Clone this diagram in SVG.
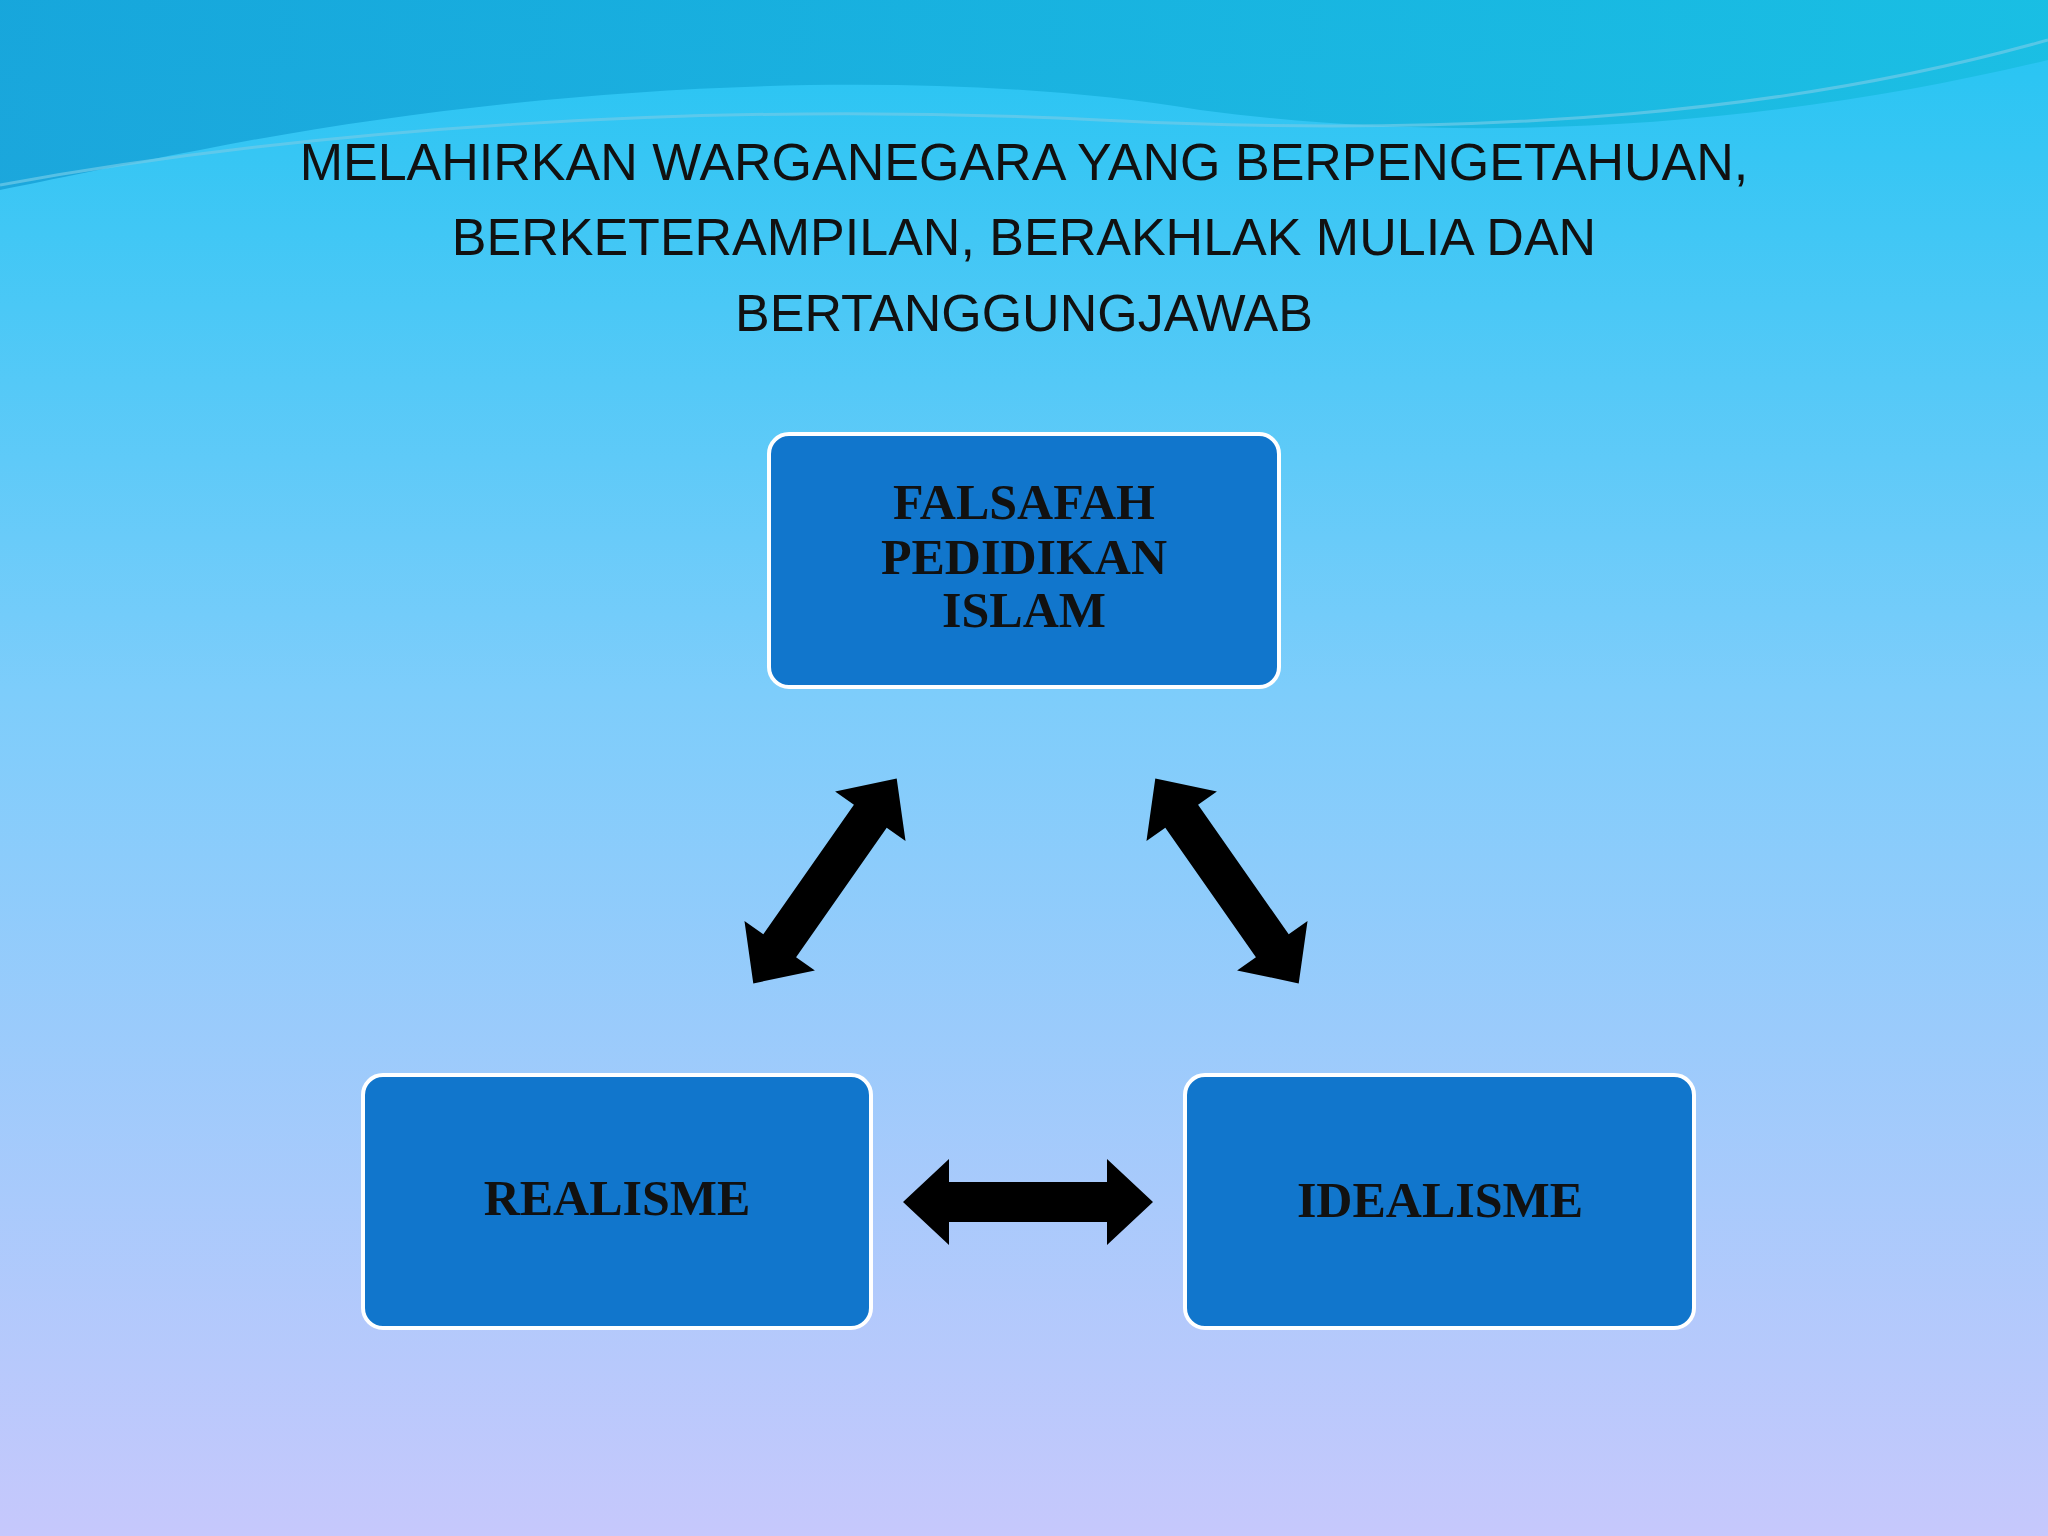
<svg xmlns="http://www.w3.org/2000/svg" width="2048" height="1536" viewBox="0 0 2048 1536">
<defs>
<linearGradient id="bg" x1="0" y1="0" x2="0" y2="1">
<stop offset="0" stop-color="#22c4f2"/>
<stop offset="0.45" stop-color="#7dcdfb"/>
<stop offset="1" stop-color="#c6c8fc"/>
</linearGradient>
<linearGradient id="wave" x1="0" y1="0" x2="1" y2="0">
<stop offset="0" stop-color="#149fd6"/>
<stop offset="1" stop-color="#17bde0"/>
</linearGradient>
<polygon id="dbl" points="-125,0 -79,-43 -79,-20 79,-20 79,-43 125,0 79,43 79,20 -79,20 -79,43"/>
</defs>
<style>
.box{fill:#1176cc;stroke:#ffffff;stroke-width:4}
.lbl{font-family:"Liberation Serif",serif;font-weight:bold;font-size:50px;fill:#111;text-anchor:middle}
.title{font-family:"Liberation Sans",Arial,sans-serif;font-size:52px;fill:#111;text-anchor:middle}
</style>
<rect width="2048" height="1536" fill="url(#bg)"/>
<path d="M0,0 H2048 V60 C1800,120 1500,150 1200,110 C900,60 500,90 200,150 C120,165 50,180 0,190 Z" fill="url(#wave)" opacity="0.8"/>
<path d="M0,185 C300,130 700,100 1100,120 C1500,140 1800,110 2048,40" fill="none" stroke="#6fcbe8" stroke-width="3" opacity="0.7"/>
<g id="title">
<text class="title" x="1024" y="180">MELAHIRKAN WARGANEGARA YANG BERPENGETAHUAN,</text>
<text class="title" x="1024" y="255">BERKETERAMPILAN, BERAKHLAK MULIA DAN</text>
<text class="title" x="1024" y="331">BERTANGGUNGJAWAB</text>
</g>
<g id="falsafah">
<rect class="box" x="769" y="434" width="510" height="253" rx="20"/>
<text class="lbl" x="1024" y="519">FALSAFAH</text>
<text class="lbl" x="1024" y="574">PEDIDIKAN</text>
<text class="lbl" x="1024" y="627">ISLAM</text>
</g>
<g id="realisme">
<rect class="box" x="363" y="1075" width="508" height="253" rx="20"/>
<text class="lbl" x="617" y="1215">REALISME</text>
</g>
<g id="idealisme">
<rect class="box" x="1185" y="1075" width="509" height="253" rx="20"/>
<text class="lbl" x="1440" y="1217" font-size="44">IDEALISME</text>
</g>
<g id="connectors" fill="#000">
<use href="#dbl" transform="translate(825,881) rotate(-55)"/>
<use href="#dbl" transform="translate(1227,881) rotate(55)"/>
<use href="#dbl" transform="translate(1028,1202)"/>
</g>
</svg>
